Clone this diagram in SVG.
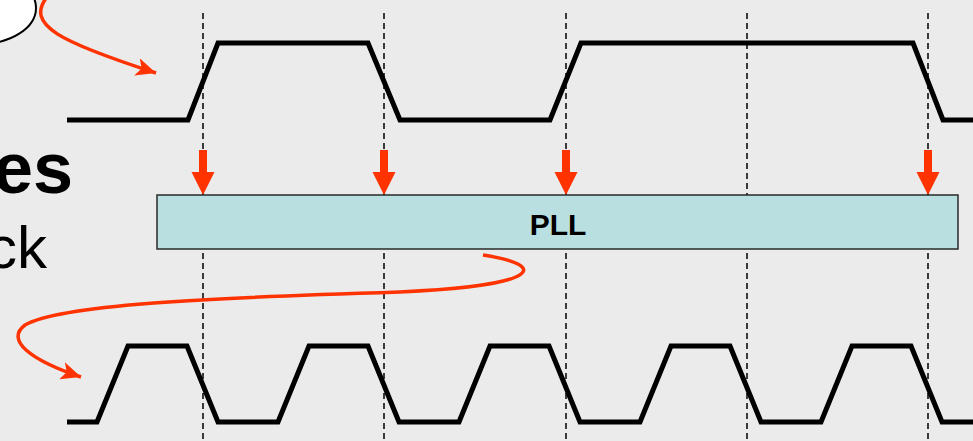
<svg xmlns="http://www.w3.org/2000/svg" width="973" height="441" viewBox="0 0 973 441">
<defs>
<style>
.bg{fill:#ebebeb}
.wave{fill:none;stroke:#000;stroke-width:5;stroke-linejoin:miter}
.dash{stroke:#000;stroke-width:1.5;stroke-dasharray:6 4}
.red{fill:#ff3300}
.curve{fill:none;stroke:#ff3300;stroke-width:3.5}
.box{fill:#b9dfe1;stroke:#2a2a2a;stroke-width:1.5}
.lbl{font-family:"Liberation Sans",Arial,sans-serif;fill:#000}
</style>
<marker id="ah" markerUnits="userSpaceOnUse" markerWidth="22" markerHeight="18" viewBox="0 0 22 18" refX="20" refY="9" orient="auto">
<path d="M0,0 L20,9 L0,18 L5,9 Z" fill="#ff3300"/>
</marker>
</defs>
<rect class="bg" x="0" y="0" width="973" height="441"/>

<g id="text-left">
<text class="lbl" x="73" y="193" text-anchor="end" font-size="72" font-weight="bold">ues</text>
<text class="lbl" x="47" y="268" text-anchor="end" font-size="60">ck</text>
</g>

<g id="ellipse-node">
<ellipse cx="-20" cy="8" rx="56" ry="36" fill="#fff" stroke="#000" stroke-width="2"/>
</g>

<g id="dashed-lines">
<line class="dash" x1="203" y1="13" x2="203" y2="441"/>
<line class="dash" x1="384" y1="13" x2="384" y2="441"/>
<line class="dash" x1="566" y1="13" x2="566" y2="441"/>
<line class="dash" x1="747" y1="13" x2="747" y2="441"/>
<line class="dash" x1="928" y1="13" x2="928" y2="441"/>
</g>

<g id="input-clock">
<polyline class="wave" points="67,120 188,120 218,43 368,43 400,120 550,120 581,43 913,43 943,120 975,120"/>
</g>

<g id="output-clock">
<polyline class="wave" points="67,422 97,422 128,346 187,346 218,422 278,422 309,346 368,346 399,422 459,422 490,346 549,346 580,422 640,422 671,346 730,346 761,422 821,422 852,346 911,346 942,422 975,422"/>
</g>

<g id="sample-arrows">
<path class="red" d="M199,150 H207 V172 H214.5 L203,195 L191.5,172 H199 Z"/>
<path class="red" d="M380,150 H388 V172 H395.5 L384,195 L372.5,172 H380 Z"/>
<path class="red" d="M562,150 H570 V172 H577.5 L566,195 L554.5,172 H562 Z"/>
<path class="red" d="M924,150 H932 V172 H939.5 L928,195 L916.5,172 H924 Z"/>
</g>

<g id="pll">
<rect class="box" x="157" y="195" width="801" height="54"/>
<text class="lbl" x="558" y="235" text-anchor="middle" font-size="30" font-weight="bold">PLL</text>
</g>

<g id="connectors">
<path class="curve" d="M47,-3 C25,25 60,42 156,73" marker-end="url(#ah)"/>
<path class="curve" d="M483,255 C548,265 545,285 400,292 C200,298 60,305 25,325 C5,340 30,360 81,377" marker-end="url(#ah)"/>
</g>
</svg>
